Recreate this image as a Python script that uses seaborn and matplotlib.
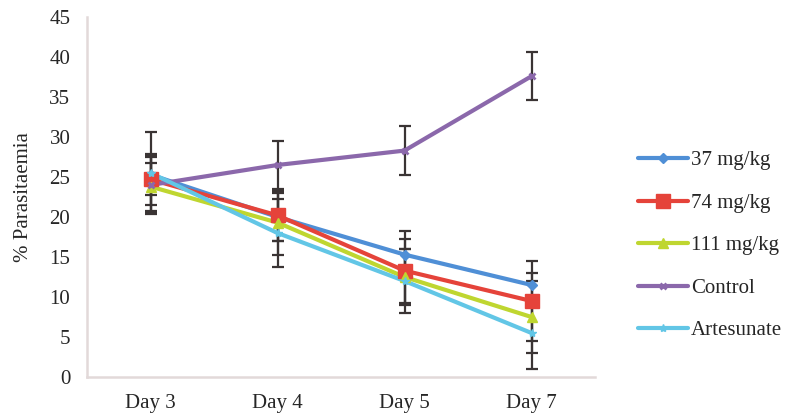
import numpy as np
import pandas as pd
import matplotlib
matplotlib.use("Agg")
import matplotlib.pyplot as plt
import seaborn as sns

# Data
days = ['Day 3', 'Day 4', 'Day 5', 'Day 7']
groups = ['37 mg/kg', '74 mg/kg', '111 mg/kg', 'Control', 'Artesunate']
mean_37 = [25.3, 20.0, 15.3, 11.5]
mean_74 = [24.7, 20.2, 13.3, 9.5]
mean_111 = [23.8, 19.3, 12.5, 7.5]
mean_control = [24.0, 26.5, 28.3, 37.6]
mean_artesunate = [25.5, 18.0, 12.0, 5.5]
err_37 = [2.5, 3.0, 2.9, 1.5]
err_74 = [3.2, 3.2, 4.0, 5.0]
err_111 = [3.0, 4.0, 3.5, 4.5]
err_control = [3.5, 3.0, 3.1, 3.0]
err_artesunate = [5.1, 4.2, 4.0, 4.5]

colors = ['#4f8fd6', '#e5433a', '#bfd630', '#8b68ab', '#62c6e6']
markers = ['D', 's', '^', 'x', '*']
msizes = [5, 10, 7, 5, 6]

df = pd.DataFrame({
    'day': days * len(groups),
    'group': np.repeat(groups, len(days)),
    'value': mean_37 + mean_74 + mean_111 + mean_control + mean_artesunate,
    'err': err_37 + err_74 + err_111 + err_control + err_artesunate,
})

sns.set_style('white')
plt.rcParams['font.family'] = ['Liberation Serif', 'DejaVu Serif']

fig = plt.figure(figsize=(7.92, 4.15), dpi=100)
ax = fig.add_axes([87 / 792, 38 / 415, (595 - 87) / 792, (377 - 17) / 415])

# error bars first so lines sit on top
for g in groups:
    sub = df[df['group'] == g]
    ax.errorbar(sub['day'], sub['value'], yerr=sub['err'], fmt='none',
                ecolor='#3a3434', elinewidth=1.6, capsize=4, capthick=1.6, zorder=2)

sns.lineplot(data=df, x='day', y='value', hue='group', hue_order=groups,
             palette=colors, sort=False, linewidth=3, legend=False, ax=ax, zorder=3)
for g, c, m, s in zip(groups, colors, markers, msizes):
    sub = df[df['group'] == g]
    ax.plot(sub['day'], sub['value'], linestyle='none', marker=m, markersize=s,
            color=c, markeredgecolor=c, markeredgewidth=2 if m == 'x' else 1, zorder=4)

ax.set_xlim(-0.5, 3.5)
ax.set_ylim(0, 45)
ax.set_yticks(range(0, 46, 5))
ax.set_xticks(range(len(days)))
ax.set_xticklabels(days)
ax.set_xticks(np.arange(-0.5, 3.6, 1), minor=True)
ax.tick_params(axis='x', which='major', length=0, pad=12, labelsize=15)
ax.tick_params(axis='x', which='minor', length=5, color='#e2d9d9', width=1.5)
ax.tick_params(axis='y', length=6, color='#e2d9d9', width=1.5, labelsize=15, pad=6)
ax.set_xlabel('')
ax.set_ylabel('% Parasitaemia', fontsize=15, labelpad=12)

for side in ['top', 'right']:
    ax.spines[side].set_visible(False)
for side in ['left', 'bottom']:
    ax.spines[side].set_color('#e2d9d9')
    ax.spines[side].set_linewidth(1.8)

handles = [plt.Line2D([], [], color=c, lw=3, marker=m, markersize=s,
                      markeredgecolor=c, markeredgewidth=2 if m == 'x' else 1)
           for c, m, s in zip(colors, markers, msizes)]
fig.legend(handles, groups, loc='upper left', bbox_to_anchor=(619 / 792, 1 - 132 / 415),
           frameon=False, fontsize=15, labelspacing=1.1, handlelength=2.4,
           handletextpad=0.15)

fig.savefig('out.png', dpi=100)
